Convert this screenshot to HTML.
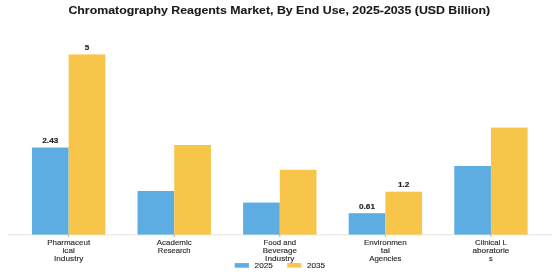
<!DOCTYPE html>
<html><head><meta charset="utf-8"><style>
html,body{margin:0;padding:0;background:#fff;width:560px;height:280px;overflow:hidden}
svg{display:block;will-change:transform}
text{font-family:"Liberation Sans",sans-serif}
</style></head><body>
<svg width="560" height="280" viewBox="0 0 560 280">
<rect x="0" y="0" width="560" height="280" fill="#fff"/>
<line x1="8" y1="234.80" x2="552" y2="234.80" stroke="#dcdcdc" stroke-width="0.8"/>
<rect x="31.95" y="147.50" width="36.70" height="87.10" fill="#5DADE2"/>
<rect x="68.65" y="54.40" width="36.70" height="180.20" fill="#F7C54A"/>
<line x1="68.65" y1="234.6" x2="68.65" y2="237.00" stroke="#666" stroke-width="0.5"/>
<text x="68.65" y="245.30" text-anchor="middle" font-size="7.13" fill="#2a2a2a" stroke="#2a2a2a" stroke-width="0.120" textLength="42.93" lengthAdjust="spacingAndGlyphs">Pharmaceut</text>
<text x="68.65" y="253.05" text-anchor="middle" font-size="7.13" fill="#2a2a2a" stroke="#2a2a2a" stroke-width="0.120" textLength="12.25" lengthAdjust="spacingAndGlyphs">ical</text>
<text x="68.65" y="260.80" text-anchor="middle" font-size="7.13" fill="#2a2a2a" stroke="#2a2a2a" stroke-width="0.120" textLength="29.33" lengthAdjust="spacingAndGlyphs">Industry</text>
<rect x="137.53" y="191.00" width="36.70" height="43.60" fill="#5DADE2"/>
<rect x="174.23" y="145.00" width="36.70" height="89.60" fill="#F7C54A"/>
<line x1="174.23" y1="234.6" x2="174.23" y2="237.00" stroke="#666" stroke-width="0.5"/>
<text x="174.23" y="245.30" text-anchor="middle" font-size="7.13" fill="#2a2a2a" stroke="#2a2a2a" stroke-width="0.120" textLength="34.80" lengthAdjust="spacingAndGlyphs">Academic</text>
<text x="174.23" y="253.05" text-anchor="middle" font-size="7.13" fill="#2a2a2a" stroke="#2a2a2a" stroke-width="0.120" textLength="32.70" lengthAdjust="spacingAndGlyphs">Research</text>
<rect x="243.10" y="202.60" width="36.70" height="32.00" fill="#5DADE2"/>
<rect x="279.80" y="169.80" width="36.70" height="64.80" fill="#F7C54A"/>
<line x1="279.80" y1="234.6" x2="279.80" y2="237.00" stroke="#666" stroke-width="0.5"/>
<text x="279.80" y="245.30" text-anchor="middle" font-size="7.13" fill="#2a2a2a" stroke="#2a2a2a" stroke-width="0.120" textLength="32.78" lengthAdjust="spacingAndGlyphs">Food and</text>
<text x="279.80" y="253.05" text-anchor="middle" font-size="7.13" fill="#2a2a2a" stroke="#2a2a2a" stroke-width="0.120" textLength="34.10" lengthAdjust="spacingAndGlyphs">Beverage</text>
<text x="279.80" y="260.80" text-anchor="middle" font-size="7.13" fill="#2a2a2a" stroke="#2a2a2a" stroke-width="0.120" textLength="29.33" lengthAdjust="spacingAndGlyphs">Industry</text>
<rect x="348.68" y="213.20" width="36.70" height="21.40" fill="#5DADE2"/>
<rect x="385.38" y="191.70" width="36.70" height="42.90" fill="#F7C54A"/>
<line x1="385.38" y1="234.6" x2="385.38" y2="237.00" stroke="#666" stroke-width="0.5"/>
<text x="385.38" y="245.30" text-anchor="middle" font-size="7.13" fill="#2a2a2a" stroke="#2a2a2a" stroke-width="0.120" textLength="42.73" lengthAdjust="spacingAndGlyphs">Environmen</text>
<text x="385.38" y="253.05" text-anchor="middle" font-size="7.13" fill="#2a2a2a" stroke="#2a2a2a" stroke-width="0.120" textLength="9.15" lengthAdjust="spacingAndGlyphs">tal</text>
<text x="385.38" y="260.80" text-anchor="middle" font-size="7.13" fill="#2a2a2a" stroke="#2a2a2a" stroke-width="0.120" textLength="32.31" lengthAdjust="spacingAndGlyphs">Agencies</text>
<rect x="454.25" y="166.00" width="36.70" height="68.60" fill="#5DADE2"/>
<rect x="490.95" y="127.60" width="36.70" height="107.00" fill="#F7C54A"/>
<line x1="490.95" y1="234.6" x2="490.95" y2="237.00" stroke="#666" stroke-width="0.5"/>
<text x="490.95" y="245.30" text-anchor="middle" font-size="7.13" fill="#2a2a2a" stroke="#2a2a2a" stroke-width="0.120" textLength="31.95" lengthAdjust="spacingAndGlyphs">Clinical L</text>
<text x="490.95" y="253.05" text-anchor="middle" font-size="7.13" fill="#2a2a2a" stroke="#2a2a2a" stroke-width="0.120" textLength="37.01" lengthAdjust="spacingAndGlyphs">aboratorie</text>
<text x="490.95" y="260.80" text-anchor="middle" font-size="7.13" fill="#2a2a2a" stroke="#2a2a2a" stroke-width="0.120" textLength="3.71" lengthAdjust="spacingAndGlyphs">s</text>
<text x="50.30" y="143.00" text-anchor="middle" font-size="6.50" font-weight="bold" fill="#222" stroke="#222" stroke-width="0.120" textLength="16.04" lengthAdjust="spacingAndGlyphs">2.43</text>
<text x="87.00" y="49.90" text-anchor="middle" font-size="6.50" font-weight="bold" fill="#222" stroke="#222" stroke-width="0.120" textLength="4.52" lengthAdjust="spacingAndGlyphs">5</text>
<text x="367.02" y="208.70" text-anchor="middle" font-size="6.50" font-weight="bold" fill="#222" stroke="#222" stroke-width="0.120" textLength="16.04" lengthAdjust="spacingAndGlyphs">0.61</text>
<text x="403.73" y="187.20" text-anchor="middle" font-size="6.50" font-weight="bold" fill="#222" stroke="#222" stroke-width="0.120" textLength="11.51" lengthAdjust="spacingAndGlyphs">1.2</text>
<text x="279.30" y="14.30" text-anchor="middle" font-size="10.37" font-weight="bold" fill="#1a1a1a" stroke="#1a1a1a" stroke-width="0.100" textLength="421.81" lengthAdjust="spacingAndGlyphs">Chromatography Reagents Market, By End Use, 2025-2035 (USD Billion)</text>
<rect x="234.75" y="263.1" width="14.2" height="4.6" fill="#5DADE2"/>
<text x="254.60" y="267.90" text-anchor="start" font-size="7.13" fill="#2a2a2a" stroke="#2a2a2a" stroke-width="0.120" textLength="18.15" lengthAdjust="spacingAndGlyphs">2025</text>
<rect x="287.25" y="263.0" width="14.0" height="4.6" fill="#F7C54A"/>
<text x="306.90" y="267.90" text-anchor="start" font-size="7.13" fill="#2a2a2a" stroke="#2a2a2a" stroke-width="0.120" textLength="18.15" lengthAdjust="spacingAndGlyphs">2035</text>
</svg>
</body></html>
